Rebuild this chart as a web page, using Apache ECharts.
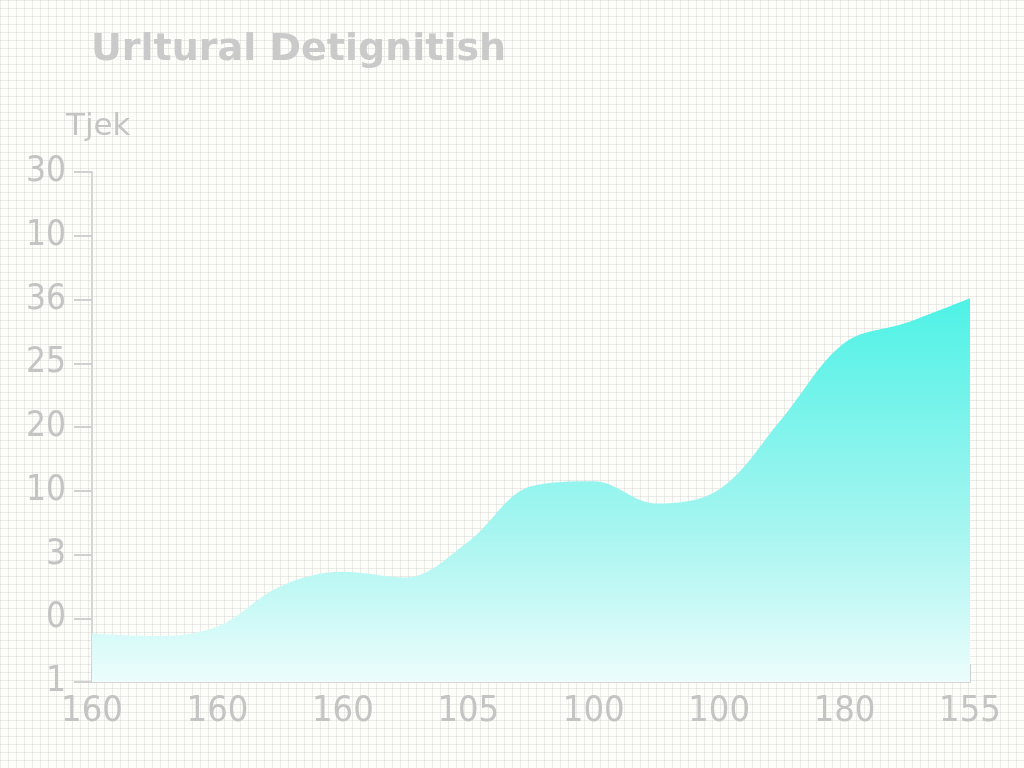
<!DOCTYPE html>
<html>
<head>
<meta charset="utf-8">
<script src="https://cdn.jsdelivr.net/npm/echarts@6/dist/echarts.min.js"></script>
<style>
html,body{margin:0;padding:0;}
body{
  width:1024px;height:768px;background-color:#fdfdfa;
  background-image:
    linear-gradient(to right, rgba(200,200,195,0.35) 1px, transparent 1px),
    linear-gradient(to bottom, rgba(200,200,195,0.35) 1px, transparent 1px);
  background-size:8px 8px;
}
#chart{width:1024px;height:768px;}
</style>
</head>
<body>
<div id="chart"></div>
<script>
// Chart data
const titleText = 'Urltural Detignitish';
const yAxisName = 'Tjek';
const xTickLabels = ['160', '160', '160', '105', '100', '100', '180', '155'];
const yTickLabels = ['1', '0', '3', '10', '20', '25', '36', '10', '30']; // bottom to top
const xPositions = [0, 0.5, 1, 1.5, 2, 2.5, 3, 3.5, 4, 4.5, 5, 5.5, 6, 6.5, 7];
const seriesValues = [0.76, 0.72, 0.87, 1.5, 1.73, 1.64, 2.2, 3.07, 3.15, 2.8, 3.02, 4.13, 5.32, 5.64, 6.02];

const chart = echarts.init(document.getElementById('chart'), null, {renderer: 'canvas'});
const textColor = '#c4c4c4';
const option = {
  backgroundColor: 'transparent',
  animation: false,
  title: {
    text: titleText,
    left: 86, top: 26,
    textStyle: {color: '#cacaca', fontSize: 38, fontWeight: 'bold', fontFamily: 'DejaVu Sans'}
  },
  grid: {left: 92, right: 54, top: 172, bottom: 86},
  xAxis: {
    type: 'value', min: 0, max: 7, interval: 1,
    axisLine: {show: true, lineStyle: {color: '#d6d6d6', width: 2}},
    axisTick: {show: true, inside: true, length: 18, lineStyle: {color: '#d0d0d0', width: 2}},
    splitLine: {show: false},
    axisLabel: {
      color: textColor, fontSize: 36, margin: 12, fontFamily: 'DejaVu Sans Condensed',
      formatter: v => xTickLabels[Math.round(v)]
    }
  },
  yAxis: {
    type: 'value', min: 0, max: 8, interval: 1,
    name: yAxisName, nameLocation: 'end', nameGap: 30,
    nameTextStyle: {color: textColor, fontSize: 31, align: 'left', padding: [0, 0, 0, -26], fontFamily: 'DejaVu Sans'},
    axisLine: {show: true, lineStyle: {color: '#d6d6d6', width: 2}},
    axisTick: {show: true, length: 18, lineStyle: {color: '#d0d0d0', width: 2}},
    splitLine: {show: false},
    axisLabel: {
      color: textColor, fontSize: 35, margin: 26, fontFamily: 'DejaVu Sans Condensed',
      formatter: v => yTickLabels[Math.round(v)]
    }
  },
  series: [{
    type: 'line',
    data: xPositions.map((x, i) => [x, seriesValues[i]]),
    smooth: 0.35,
    symbol: 'none',
    lineStyle: {width: 0},
    areaStyle: {
      opacity: 1,
      color: new echarts.graphic.LinearGradient(0, 0, 0, 1, [
        {offset: 0, color: '#4ef2e6'},
        {offset: 0.6, color: '#a6f5f0'},
        {offset: 1, color: '#ecfdfc'}
      ])
    }
  }]
};
chart.setOption(option);
</script>
</body>
</html>
